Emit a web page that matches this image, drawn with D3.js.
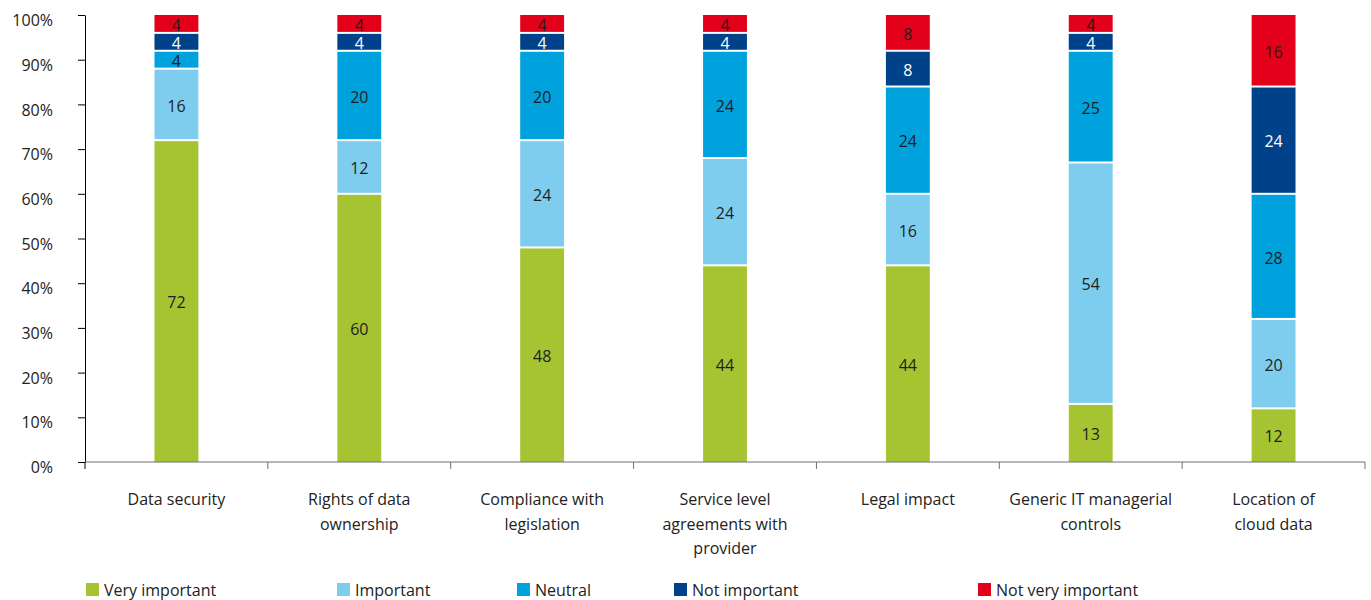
<!DOCTYPE html>
<html>
<head>
<meta charset="utf-8">
<script src="https://cdn.jsdelivr.net/npm/d3@7"></script>
<style>
  html, body { margin: 0; padding: 0; background: #fff; }
  svg { display: block; font-family: "Open Sans", "Noto Sans", sans-serif; }
</style>
</head>
<body>
<svg id="chart" width="1371" height="600"></svg>
<script>
// Survey categories (line breaks mark how each axis label wraps)
const categories = [
  "Data security",
  "Rights of data\nownership",
  "Compliance with\nlegislation",
  "Service level\nagreements with\nprovider",
  "Legal impact",
  "Generic IT managerial\ncontrols",
  "Location of\ncloud data"
];

// Share of respondents (%) per rating, stacked bottom to top
const seriesNames = ["Very important", "Important", "Neutral", "Not important", "Not very important"];
const veryImportant    = [72, 60, 48, 44, 44, 13, 12];
const important        = [16, 12, 24, 24, 16, 54, 20];
const neutral          = [ 4, 20, 20, 24, 24, 25, 28];
const notImportant     = [ 4,  4,  4,  4,  8,  4, 24];
const notVeryImportant = [ 4,  4,  4,  4,  8,  4, 16];

const yTicks = [0, 10, 20, 30, 40, 50, 60, 70, 80, 90, 100];
const yTickLabels = ["0%", "10%", "20%", "30%", "40%", "50%", "60%", "70%", "80%", "90%", "100%"];

const seriesValues = [veryImportant, important, neutral, notImportant, notVeryImportant];
const colors = ["#a6c432", "#7fcdee", "#00a2dd", "#004289", "#e2001a"];
const labelColors = ["#1e1e1e", "#1e1e1e", "#1e1e1e", "#ffffff", "#1e1e1e"];
const fontStack = "'Open Sans', 'Noto Sans', sans-serif";

const rows = categories.map((c, i) => {
  const r = { category: c };
  seriesNames.forEach((s, k) => { r[s] = seriesValues[k][i]; });
  return r;
});

const svg = d3.select("#chart");
const plotLeft = 85, plotRight = 1365, plotTop = 15, plotBottom = 462;

const x = d3.scaleBand().domain(categories).range([plotLeft, plotRight]).paddingInner(0).paddingOuter(0);
const y = d3.scaleLinear().domain([0, 100]).range([plotBottom, plotTop]);
const barW = x.bandwidth() * 0.24;

const stack = d3.stack().keys(seriesNames);
const layers = stack(rows);

// Stacked segments with a thin white gap between them
const layerG = svg.append("g").selectAll("g").data(layers).join("g")
  .attr("fill", (d, i) => colors[i]);

layerG.selectAll("rect").data(d => d).join("rect")
  .attr("x", d => x(d.data.category) + x.bandwidth() / 2 - barW / 2)
  .attr("width", barW)
  .attr("y", d => y(d[1]) + (d[1] >= 100 ? 0 : 1))
  .attr("height", d => Math.max(0, y(d[0]) - y(d[1]) - (d[1] >= 100 ? 0 : 1) - (d[0] <= 0 ? 0 : 1)));

// Value labels centred in each segment
const labelG = svg.append("g").attr("font-size", 16).attr("text-anchor", "middle");
layers.forEach((layer, i) => {
  labelG.selectAll(null).data(layer).join("text")
    .attr("x", d => x(d.data.category) + x.bandwidth() / 2)
    .attr("y", d => (y(d[0]) + y(d[1])) / 2 + 1.5)
    .attr("dy", "0.36em")
    .attr("fill", labelColors[i])
    .text(d => d[1] - d[0]);
});

// Y axis
const yAxis = d3.axisLeft(y).tickValues(yTicks).tickFormat((d, i) => yTickLabels[i])
  .tickSize(7).tickPadding(25).tickSizeOuter(0);
const yg = svg.append("g").attr("transform", `translate(${plotLeft},0)`).call(yAxis);
yg.select(".domain").attr("stroke", "#000");
yg.selectAll(".tick line").attr("stroke", "#000");
yg.selectAll(".tick text").attr("font-size", 16).attr("fill", "#222")
  .attr("font-family", fontStack).attr("y", 5.5);

// X axis baseline with ticks at band boundaries
const xg = svg.append("g");
xg.append("line").attr("x1", plotLeft).attr("x2", plotRight).attr("y1", plotBottom).attr("y2", plotBottom)
  .attr("stroke", "#707070").attr("stroke-width", 1.2);
const bounds = categories.map(c => x(c)).concat([plotRight]);
xg.selectAll("line.tk").data(bounds).join("line").attr("class", "tk")
  .attr("x1", d => d).attr("x2", d => d).attr("y1", plotBottom).attr("y2", plotBottom + 7)
  .attr("stroke", d => d === plotLeft ? "#000" : "#707070");

// Category labels
const catG = svg.append("g").attr("font-size", 16).attr("fill", "#222").attr("text-anchor", "middle");
categories.forEach(c => {
  const t = catG.append("text").attr("x", x(c) + x.bandwidth() / 2).attr("y", 505);
  c.split("\n").forEach((line, j) => {
    t.append("tspan").attr("x", x(c) + x.bandwidth() / 2).attr("dy", j === 0 ? 0 : 24.5).text(line);
  });
});

// Legend
const legendX = [86, 337, 517, 674, 978];
const lg = svg.append("g").attr("font-size", 16).attr("fill", "#222");
seriesNames.forEach((s, i) => {
  lg.append("rect").attr("x", legendX[i]).attr("y", 583).attr("width", 13).attr("height", 13).attr("fill", colors[i]);
  lg.append("text").attr("x", legendX[i] + 18).attr("y", 595.5).text(s);
});
</script>
</body>
</html>
